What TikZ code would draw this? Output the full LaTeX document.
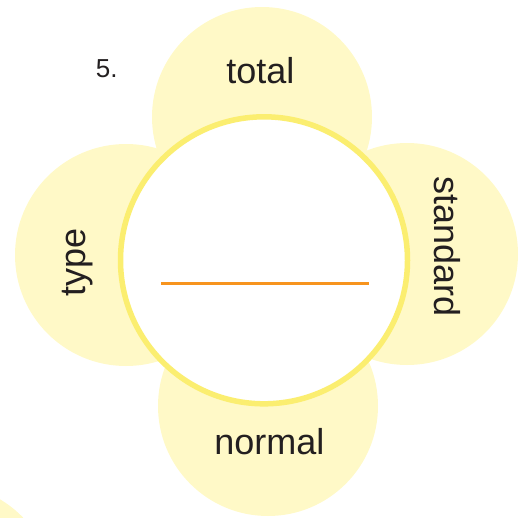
\documentclass[tikz,border=0pt]{standalone}
\usepackage{fontspec}
\setmainfont{Liberation Sans}
\definecolor{petal}{HTML}{FFF9C7}
\definecolor{ring}{HTML}{FBEE70}
\definecolor{orangeline}{HTML}{F7941E}
\definecolor{ink}{HTML}{231F20}
\begin{document}
\begin{tikzpicture}[x=1pt,y=-1pt,
  petalstyle/.style={fill=petal,draw=none},
  lbl/.style={text=ink,inner sep=0pt,font=\fontsize{36}{40}\selectfont}]
\useasboundingbox (0,0) rectangle (527,517);
\fill[petal] (-56,594) circle (110);
\fill[petal] (262,117) circle (110);
\fill[petal] (126,255) circle (111);
\fill[petal] (407,254) circle (111);
\fill[petal] (268,406) circle (110);
\draw[ring,line width=5.5pt,fill=white] (264,260.3) circle (143.5);
\coordinate (la) at (161,283.5);
\coordinate (lb) at (369,283.5);
\draw[orangeline,line width=3pt] (la) -- (lb);
\node[lbl] (total) at (260.4,70.5) {total};
\node[lbl] (normal) at (269.4,441.5) {normal};
\node[lbl,rotate=90] (type) at (78,262) {type};
\node[lbl,rotate=-90] (standard) at (447,246.5) {standard};
\node[text=ink,inner sep=0pt,font=\fontsize{26}{30}\selectfont] (num) at (106.7,68.7) {5.};
\end{tikzpicture}
\end{document}
